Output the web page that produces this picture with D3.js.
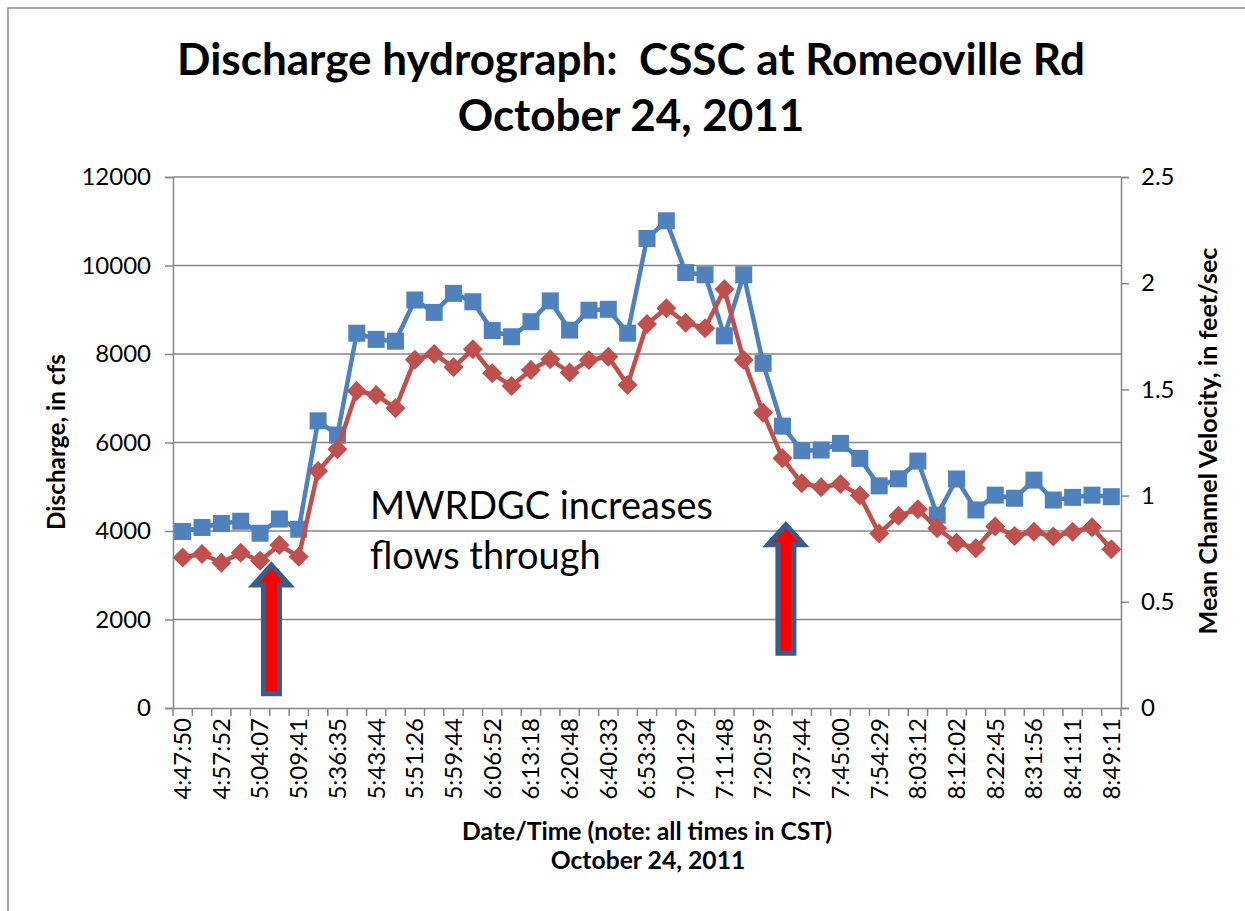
<!DOCTYPE html>
<html><head><meta charset="utf-8">
<script src="https://cdn.jsdelivr.net/npm/d3@7"></script>
<style>body{margin:0;background:#fff}svg{display:block}text{font-family:Lato,"Open Sans",sans-serif;white-space:pre}</style>
</head><body>
<svg id="c" width="1245" height="911"></svg>
<script>
const times = ["4:47:50","4:52:49","4:57:52","5:00:58","5:04:07","5:06:50","5:09:41","5:33:12","5:36:35","5:40:10",
"5:43:44","5:47:35","5:51:26","5:55:31","5:59:44","6:03:17","6:06:52","6:10:05","6:13:18","6:17:03",
"6:20:48","6:36:41","6:40:33","6:47:02","6:53:34","6:57:30","7:01:29","7:05:38","7:11:48","7:16:23",
"7:20:59","7:33:20","7:37:44","7:41:22","7:45:00","7:49:44","7:54:29","7:58:50","8:03:12","8:07:37",
"8:12:02","8:18:24","8:22:45","8:27:20","8:31:56","8:36:33","8:41:11","8:45:11","8:49:11"];
const discharge = [3990,4080,4170,4220,3950,4270,4040,6490,6170,8470,
8330,8290,9220,8940,9370,9180,8530,8390,8730,9200,
8540,8990,9010,8470,10610,11010,9840,9790,8410,9790,
7790,6370,5815,5830,5980,5640,5020,5180,5580,4360,
5175,4475,4810,4740,5150,4700,4760,4810,4775];
const velocity = [0.709,0.725,0.684,0.731,0.693,0.767,0.712,1.116,1.218,1.492,
1.474,1.411,1.640,1.667,1.604,1.689,1.576,1.516,1.591,1.642,
1.579,1.638,1.654,1.521,1.808,1.882,1.814,1.788,1.971,1.638,
1.390,1.176,1.058,1.039,1.055,1.000,0.822,0.905,0.936,0.846,
0.778,0.752,0.854,0.810,0.830,0.807,0.830,0.851,0.747];
const leftTicks = [0,2000,4000,6000,8000,10000,12000];
const rightTicks = [0,0.5,1,1.5,2,2.5];
const titleLines = ["Discharge hydrograph:  CSSC at Romeoville Rd","October 24, 2011"];
const xTitleLines = ["Date/Time (note: all times in CST)","October 24, 2011"];
const yTitle = "Discharge, in cfs";
const y2Title = "Mean Channel Velocity, in feet/sec";
const noteLines = ["MWRDGC increases","flows through"];
// arrows: position in category-boundary units, tip and base in cfs
const arrows = [{at:5.09, tip:3230, base:320},{at:31.68, tip:4140, base:1240}];

const svg = d3.select("#c");
const W=1245,H=911;
const m={l:173,r:1121,t:177,b:708};
svg.append("rect").attr("x",8).attr("y",8).attr("width",W+20).attr("height",H+20)
  .attr("fill","#fff").attr("stroke","#8c8c8c").attr("stroke-width",1.5);

const x = d3.scaleBand().domain(times).range([m.l,m.r]).padding(0);
const xi = d3.scaleLinear().domain([0,times.length]).range([m.l,m.r]);
const y = d3.scaleLinear().domain([0,12000]).range([m.b,m.t]);
const y2 = d3.scaleLinear().domain([0,2.5]).range([m.b,m.t]);
const grid="#868686";

function fit(sel,target){const n=sel.node();const w=n.getComputedTextLength();const fs=parseFloat(sel.attr("font-size"));sel.attr("font-size",fs*target/w);}

// gridlines
svg.append("g").selectAll("line").data(leftTicks.filter(d=>d>0)).join("line")
  .attr("x1",m.l).attr("x2",m.r).attr("y1",d=>y(d)).attr("y2",d=>y(d))
  .attr("stroke",grid).attr("stroke-width",1.5);

// left axis
const gL = svg.append("g").attr("transform",`translate(${m.l},0)`)
  .call(d3.axisLeft(y).tickValues(leftTicks).tickSize(8).tickPadding(14).tickFormat(d3.format("d")));
// right axis
const gR = svg.append("g").attr("transform",`translate(${m.r},0)`)
  .call(d3.axisRight(y2).tickValues(rightTicks).tickSize(8).tickPadding(12).tickFormat(d=>d3.format("")(d)));
// x axis
const gX = svg.append("g").attr("transform",`translate(0,${m.b})`)
  .call(d3.axisBottom(x).tickValues(times.filter((d,i)=>i%2===0)).tickSize(0).tickPadding(0));
[gL,gR,gX].forEach(g=>{g.select(".domain").attr("stroke",grid).attr("stroke-width",1.5);
  g.selectAll(".tick line").attr("stroke",grid).attr("stroke-width",1.5);
  g.selectAll("text").attr("font-size",24).attr("fill","#000").attr("font-family","Lato");});
gX.selectAll(".tick text").attr("transform","rotate(-90)").attr("text-anchor","end")
  .attr("x",-10).attr("y",0).attr("dy","0.35em");
// x boundary ticks
svg.append("g").selectAll("line").data(d3.range(times.length+1)).join("line")
  .attr("x1",d=>xi(d)).attr("x2",d=>xi(d)).attr("y1",m.b).attr("y2",m.b+8)
  .attr("stroke",grid).attr("stroke-width",1.5);

const cx = (d,i)=>x(times[i])+x.bandwidth()/2;
const blue="#4F81BD", red="#C0504D";
svg.append("path").datum(discharge).attr("fill","none").attr("stroke",blue).attr("stroke-width",4.5)
  .attr("stroke-linejoin","round").attr("d",d3.line().x(cx).y(d=>y(d)));
svg.append("g").selectAll("rect").data(discharge).join("rect")
  .attr("x",(d,i)=>cx(d,i)-8.5).attr("y",d=>y(d)-8.5).attr("width",17).attr("height",17).attr("fill",blue);
svg.append("path").datum(velocity).attr("fill","none").attr("stroke",red).attr("stroke-width",4.5)
  .attr("stroke-linejoin","round").attr("d",d3.line().x(cx).y(d=>y2(d)));
svg.append("g").selectAll("path.dm").data(velocity).join("path").attr("class","dm")
  .attr("transform",(d,i)=>`translate(${cx(d,i)},${y2(d)})`)
  .attr("d","M0,-10L10,0L0,10L-10,0Z").attr("fill",red);

// arrows
arrows.forEach(a=>{
  const c=xi(a.at), t=y(a.tip), b=y(a.base);
  const hw=18, sw=8, hh=20;
  const p=`M${c},${t}L${c+hw},${t+hh}L${c+sw},${t+hh}L${c+sw},${b}L${c-sw},${b}L${c-sw},${t+hh}L${c-hw},${t+hh}Z`;
  svg.append("path").attr("d",p).attr("fill","#FF0000").attr("stroke","#385D8A").attr("stroke-width",5).attr("stroke-linejoin","miter");
});

// note text
const n1=svg.append("text").attr("x",370).attr("y",519).attr("font-size",36).text(noteLines[0]);
fit(n1,343);
svg.append("text").attr("x",370).attr("y",569).attr("font-size",n1.attr("font-size")).text(noteLines[1]);

// title
const t1=svg.append("text").attr("x",631).attr("y",75).attr("text-anchor","middle").attr("font-weight","bold").attr("font-size",40).text(titleLines[0]);
fit(t1,908);
svg.append("text").attr("x",631).attr("y",131).attr("text-anchor","middle").attr("font-weight","bold").attr("font-size",t1.attr("font-size")).text(titleLines[1]);

// x title
const xt=svg.append("text").attr("x",647).attr("y",840).attr("text-anchor","middle").attr("font-weight","bold").attr("font-size",20).text(xTitleLines[0]);
fit(xt,370);
svg.append("text").attr("x",648).attr("y",869).attr("text-anchor","middle").attr("font-weight","bold").attr("font-size",xt.attr("font-size")).text(xTitleLines[1]);
// y titles
const yt=svg.append("text").attr("transform","translate(65,442) rotate(-90)").attr("text-anchor","middle").attr("font-weight","bold").attr("font-size",20).text(yTitle);
fit(yt,176);
const yt2=svg.append("text").attr("transform","translate(1217,441) rotate(-90)").attr("text-anchor","middle").attr("font-weight","bold").attr("font-size",20).text(y2Title);
fit(yt2,387);
</script>
</body></html>
